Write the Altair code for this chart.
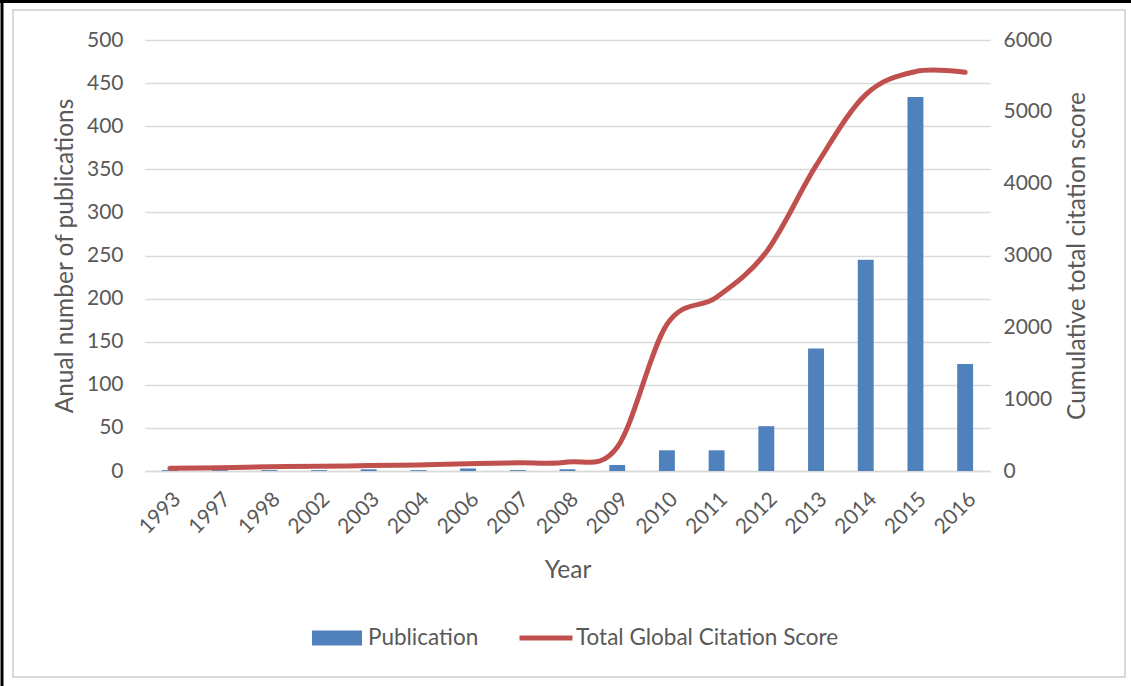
import altair as alt
import pandas as pd

# Publication years shown on the category axis
years = ["1993", "1997", "1998", "2002", "2003", "2004", "2006", "2007", "2008",
         "2009", "2010", "2011", "2012", "2013", "2014", "2015", "2016"]
# Annual number of publications (left axis)
publications = [1, 1, 1, 1, 2, 1, 3, 1, 2, 7, 24, 24, 52, 142, 245, 434, 124]
# Cumulative total global citation score (right axis)
citations = [40, 45, 60, 65, 75, 85, 100, 115, 125, 330, 2040, 2420, 3050,
             4250, 5240, 5560, 5550]

left_ticks = list(range(0, 501, 50))
right_ticks = list(range(0, 6001, 1000))

df = pd.DataFrame({
    "Year": years,
    "Publication": publications,
    "Citations": citations,
    "bar_series": "Publication",
    "line_series": "Total Global Citation Score",
})

TEXT = "#595959"
GRID = "#d9d9d9"
BLUE = "#4f81bd"
RED = "#c0504d"
FONT = "Lato"

W, H = 845, 431

x_enc = alt.X(
    "Year:N",
    sort=years,
    scale=alt.Scale(paddingInner=0.68, paddingOuter=0.34),
    axis=alt.Axis(
        title="Year", labelAngle=-45, labelPadding=17, ticks=False,
        domain=True, domainColor=GRID, domainWidth=1.5, grid=False,
        titlePadding=21,
    ),
)

bars = alt.Chart(df).mark_bar().encode(
    x=x_enc,
    y=alt.Y(
        "Publication:Q",
        scale=alt.Scale(domain=[0, 500], nice=False),
        axis=alt.Axis(
            title="Anual number of publications", values=left_ticks,
            orient="left", grid=True, gridColor=GRID, gridWidth=1.5,
            domain=False, ticks=False, labelPadding=22, titlePadding=9,
        ),
    ),
    fill=alt.Fill(
        "bar_series:N",
        scale=alt.Scale(domain=["Publication"], range=[BLUE]),
        legend=alt.Legend(
            title=None, orient="none", legendX=167, legendY=573,
            symbolType="M-1,-0.3H1V0.3H-1Z", symbolSize=2500,
            symbolStrokeWidth=0, labelOffset=6, labelLimit=0,
        ),
    ),
)

line = alt.Chart(df).mark_line(
    strokeWidth=5, interpolate="cardinal", strokeCap="round"
).encode(
    x=alt.X("Year:N", sort=years),
    y=alt.Y(
        "Citations:Q",
        scale=alt.Scale(domain=[0, 6000], nice=False),
        axis=alt.Axis(
            title="Cumulative total citation score", values=right_ticks,
            format="d", orient="right", grid=False, domain=False,
            ticks=False, labelPadding=13, titleAngle=270,
            titleX=87, titleY=H / 2, titleAlign="center",
            titleBaseline="middle",
        ),
    ),
    stroke=alt.Stroke(
        "line_series:N",
        scale=alt.Scale(domain=["Total Global Citation Score"], range=[RED]),
        legend=alt.Legend(
            title=None, orient="none", legendX=372, legendY=569,
            symbolType="stroke", symbolSize=2809, symbolStrokeWidth=5,
            labelOffset=1, labelLimit=0,
        ),
    ),
)

# Frame around the figure: light inner border and dark left/top edges
frame_data = alt.Data(values=[{}])
inner_border = alt.Chart(frame_data).mark_rect(
    fill=None, stroke=GRID, strokeWidth=2
).encode(
    x=alt.value(-132), x2=alt.value(980),
    y=alt.value(-30), y2=alt.value(637),
)
left_edge = alt.Chart(frame_data).mark_rule(color="black", strokeWidth=3).encode(
    x=alt.value(-143), y=alt.value(-40), y2=alt.value(646),
)
top_edge = alt.Chart(frame_data).mark_rule(color="black", strokeWidth=3).encode(
    x=alt.value(-145), x2=alt.value(986), y=alt.value(-38.5),
)

chart = (
    alt.layer(bars, line, inner_border, left_edge, top_edge)
    .resolve_scale(y="independent", fill="independent", stroke="independent")
    .properties(
        width=W, height=H,
        autosize=alt.AutoSizeParams(type="none"),
        padding={"left": 145, "top": 40, "right": 141, "bottom": 215},
        background="white",
    )
    .configure_view(stroke=None)
    .configure_axis(
        labelFont=FONT, titleFont=FONT, labelColor=TEXT, titleColor=TEXT,
        labelFontSize=21, titleFontSize=24.5, titleFontWeight="normal",
    )
    .configure_legend(
        labelFont=FONT, labelColor=TEXT, labelFontSize=22.5, padding=0,
        symbolOpacity=1,
    )
)

chart.save("out.html", embed_options={"renderer": "svg", "actions": False})
